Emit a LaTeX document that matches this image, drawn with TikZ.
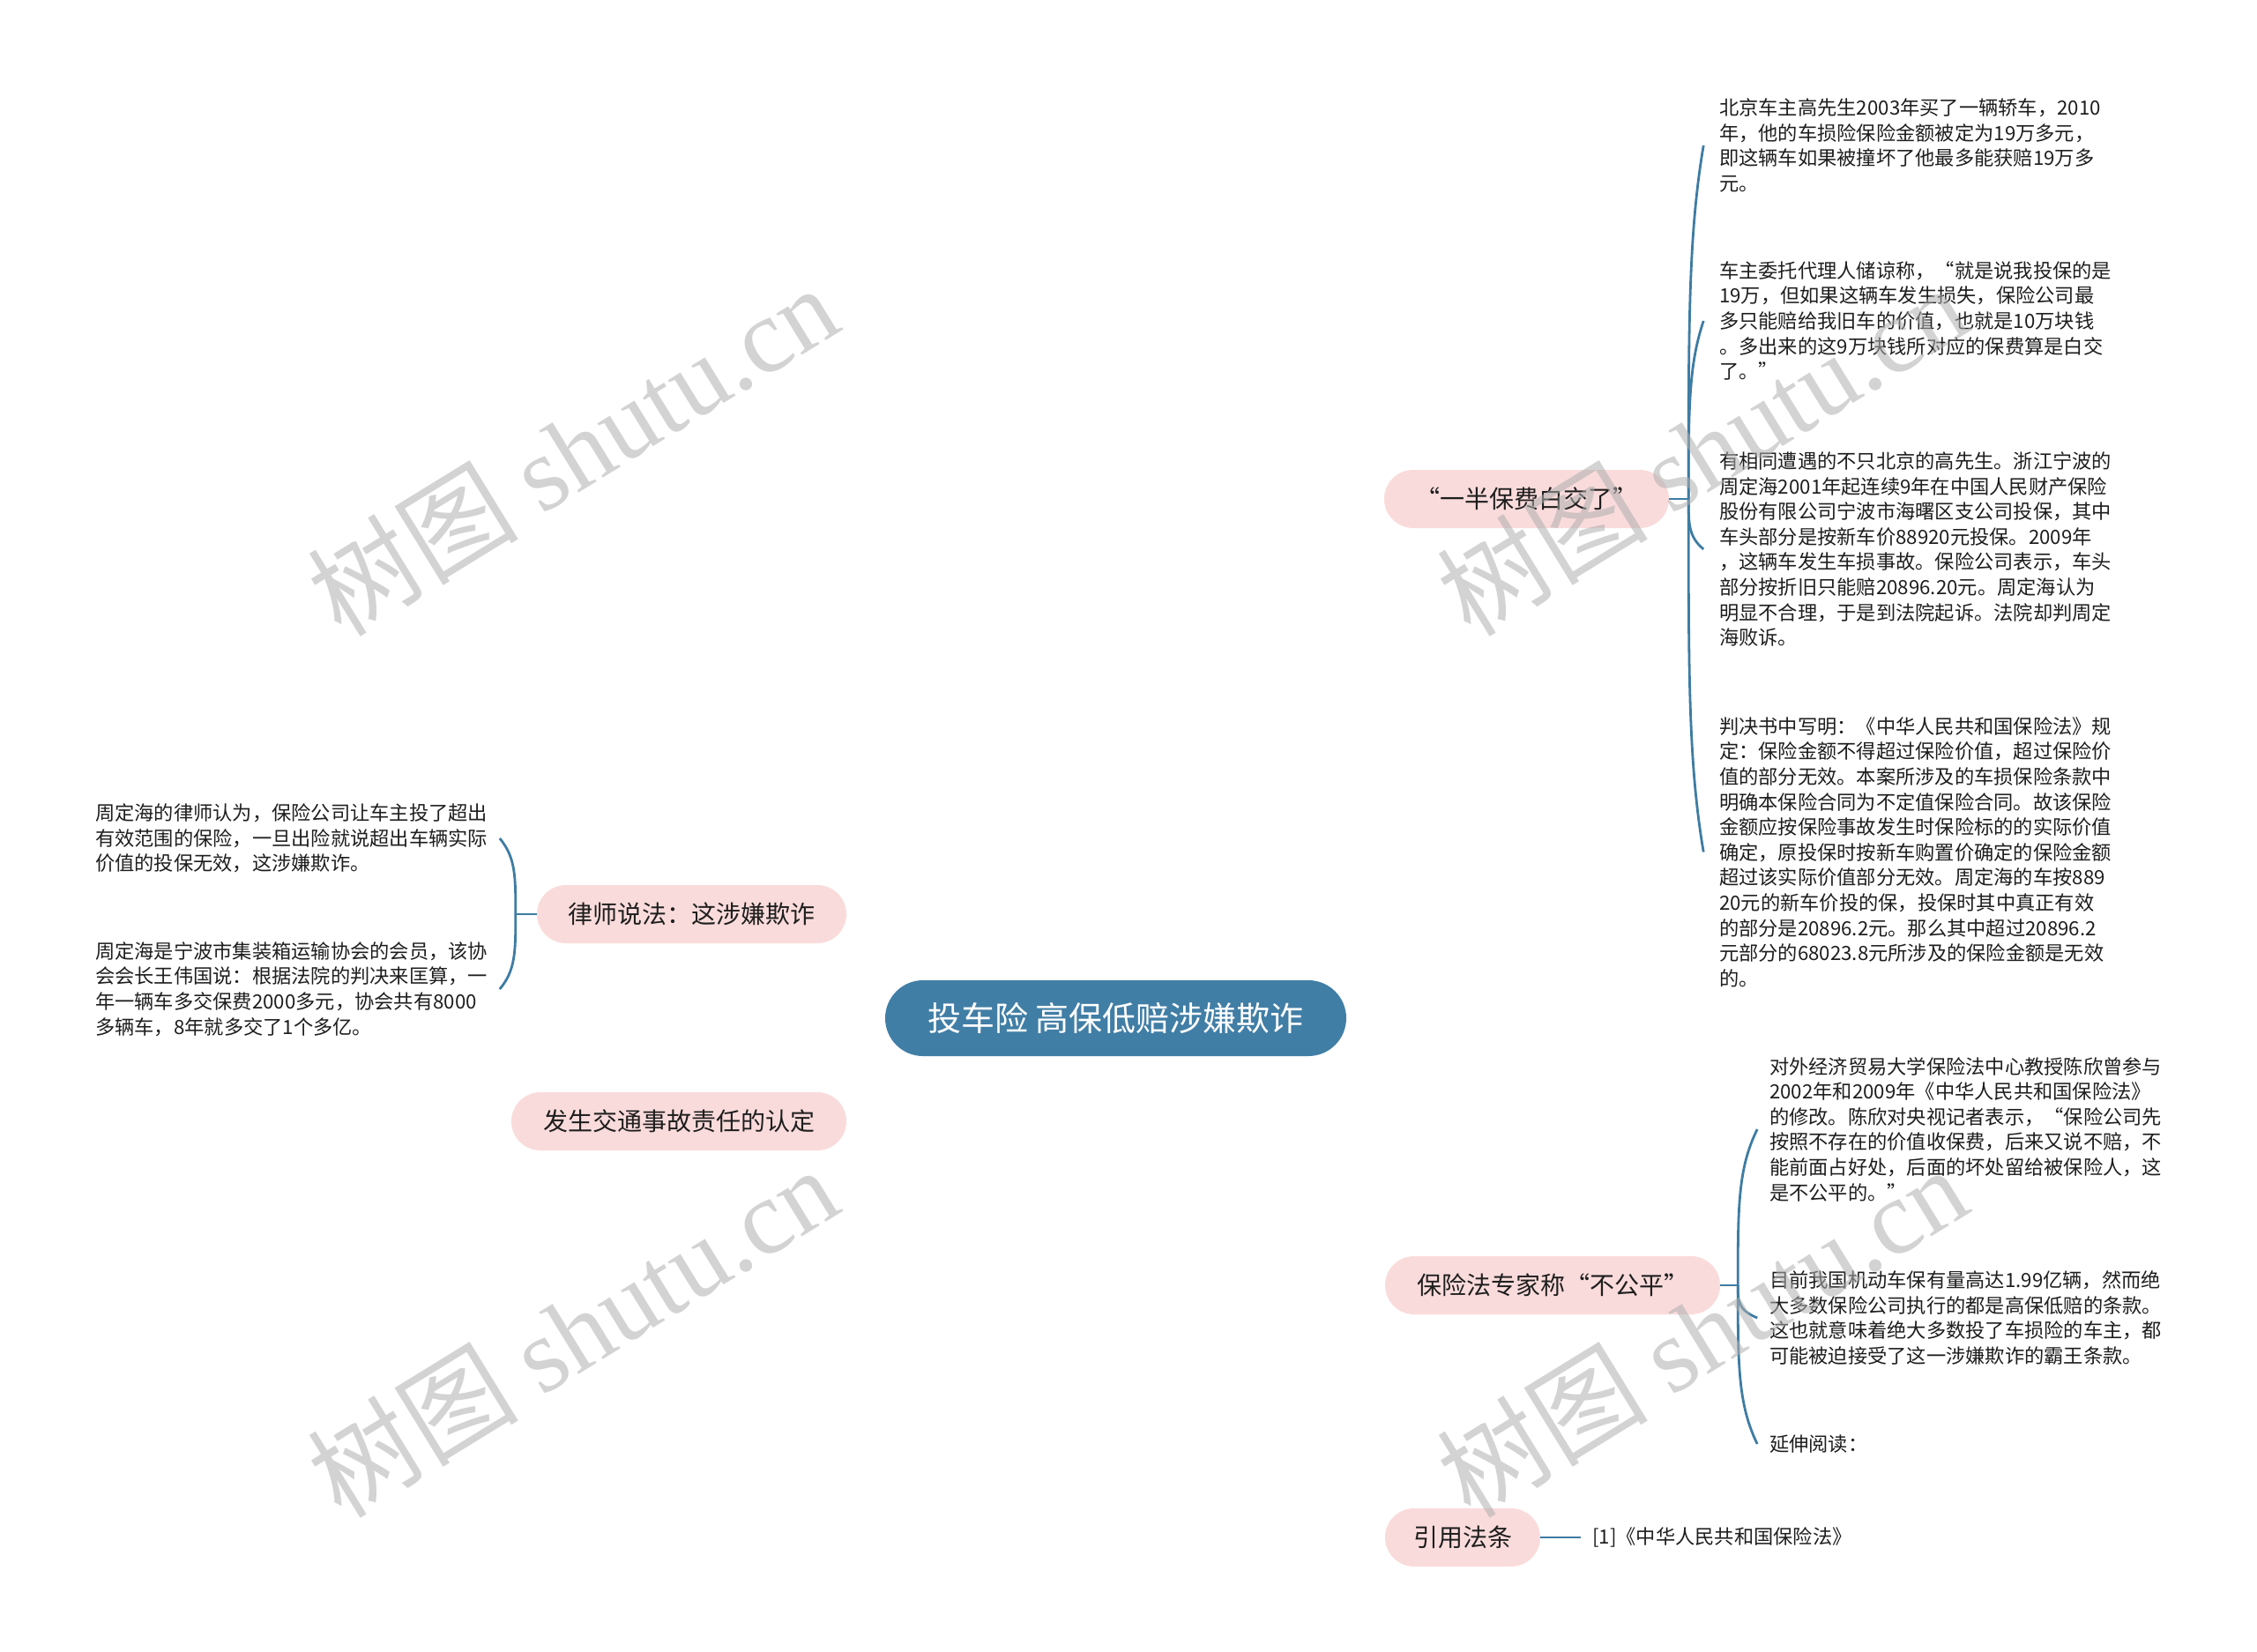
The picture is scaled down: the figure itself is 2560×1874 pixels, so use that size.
\documentclass[tikz,border=0pt]{standalone}
\usepackage{fontspec}
\setmainfont{Noto Sans CJK SC}
\newfontfamily\wmserif{Liberation Serif}
\usetikzlibrary{calc}
\definecolor{lineblue}{RGB}{62,124,163}
\definecolor{rootfill}{RGB}{65,126,166}
\definecolor{pillfill}{RGB}{250,219,219}
\definecolor{txt}{RGB}{30,30,30}
\definecolor{wm}{RGB}{175,175,175}
\pgfdeclarelayer{bg}
\pgfsetlayers{bg,main}
\tikzset{
  brace/.style={to path={.. controls ($(\tikztostart)!0.5!(\tikztostart |- \tikztotarget)$) and ($(\tikztostart |- \tikztotarget)!0.25!(\tikztostart)$) .. (\tikztotarget)}}
}
\begin{document}
\begin{tikzpicture}[x=1pt,y=-1pt,
  conn/.style={draw=lineblue, line width=2.8pt},
  rootnode/.style={fill=rootfill, text=white, rounded corners=43pt, minimum height=86pt, inner sep=0pt, font=\fontsize{38}{40}\selectfont},
  pill/.style={fill=pillfill, text=txt, rounded corners=33pt, minimum height=66pt, inner sep=0pt, font=\fontsize{28}{32}\selectfont},
  leaf/.style={text=txt, align=left, inner sep=0pt, font=\fontsize{22.25}{28.6}\selectfont},
  wmark/.style={text=wm, opacity=0.55, rotate=31.6, inner sep=0pt, font=\fontsize{120}{130}\selectfont}
]
\useasboundingbox[fill=white] (0,0) rectangle (2560,1874);

% root and main branches
\node[rootnode, minimum width=523pt] (root) at (1265.5,1155) {投车险 高保低赔涉嫌欺诈};
\node[pill, minimum width=323pt] (b1) at (1731.5,566) {“一半保费白交了”};
\node[pill, minimum width=380pt] (b2) at (1761,1458) {保险法专家称“不公平”};
\node[pill, minimum width=176pt] (b3) at (1659,1744) {引用法条};
\node[pill, minimum width=351pt] (b4) at (784.5,1037) {律师说法：这涉嫌欺诈};
\node[pill, minimum width=380pt] (b5) at (770,1272) {发生交通事故责任的认定};

% leaves of b1
\node[leaf, anchor=west] (c1) at (1950,165) {北京车主高先生2003年买了一辆轿车，2010\\年，他的车损险保险金额被定为19万多元，\\即这辆车如果被撞坏了他最多能获赔19万多\\元。};
\node[leaf, anchor=west] (c2) at (1950,364) {车主委托代理人储谅称，“就是说我投保的是\\19万，但如果这辆车发生损失，保险公司最\\多只能赔给我旧车的价值，也就是10万块钱\\。多出来的这9万块钱所对应的保费算是白交\\了。”};
\node[leaf, anchor=west] (c3) at (1950,623) {有相同遭遇的不只北京的高先生。浙江宁波的\\周定海2001年起连续9年在中国人民财产保险\\股份有限公司宁波市海曙区支公司投保，其中\\车头部分是按新车价88920元投保。2009年\\，这辆车发生车损事故。保险公司表示，车头\\部分按折旧只能赔20896.20元。周定海认为\\明显不合理，于是到法院起诉。法院却判周定\\海败诉。};
\node[leaf, anchor=west] (c4) at (1950,966.5) {判决书中写明：《中华人民共和国保险法》规\\定：保险金额不得超过保险价值，超过保险价\\值的部分无效。本案所涉及的车损保险条款中\\明确本保险合同为不定值保险合同。故该保险\\金额应按保险事故发生时保险标的的实际价值\\确定，原投保时按新车购置价确定的保险金额\\超过该实际价值部分无效。周定海的车按889\\20元的新车价投的保，投保时其中真正有效\\的部分是20896.2元。那么其中超过20896.2\\元部分的68023.8元所涉及的保险金额是无效\\的。};

% leaves of b2
\node[leaf, anchor=west] (d1) at (2007,1281) {对外经济贸易大学保险法中心教授陈欣曾参与\\2002年和2009年《中华人民共和国保险法》\\的修改。陈欣对央视记者表示，“保险公司先\\按照不存在的价值收保费，后来又说不赔，不\\能前面占好处，后面的坏处留给被保险人，这\\是不公平的。”};
\node[leaf, anchor=west] (d2) at (2007,1495) {目前我国机动车保有量高达1.99亿辆，然而绝\\大多数保险公司执行的都是高保低赔的条款。\\这也就意味着绝大多数投了车损险的车主，都\\可能被迫接受了这一涉嫌欺诈的霸王条款。};
\node[leaf, anchor=west] (d3) at (2007,1638) {延伸阅读：};

% leaf of b3
\node[leaf, anchor=west] (r1) at (1806,1744) {[1]《中华人民共和国保险法》};

% leaves of b4
\node[leaf, anchor=west] (l1) at (108,951) {周定海的律师认为，保险公司让车主投了超出\\有效范围的保险，一旦出险就说超出车辆实际\\价值的投保无效，这涉嫌欺诈。};
\node[leaf, anchor=west] (l2) at (108,1122) {周定海是宁波市集装箱运输协会的会员，该协\\会会长王伟国说：根据法院的判决来匡算，一\\年一辆车多交保费2000多元，协会共有8000\\多辆车，8年就多交了1个多亿。};

% connectors from root
\begin{pgfonlayer}{bg}
\draw[conn] (root.center) .. controls (1265,762) and (1367,566) .. (b1.west);
\draw[conn] (root.center) .. controls (1265,1357) and (1367,1458) .. (b2.west);
\draw[conn] (root.center) .. controls (1265,1548) and (1367,1744) .. (b3.west);
\draw[conn] (root.center) .. controls (1265,1076) and (1163,1037) .. (b4.east);
\draw[conn] (root.center) .. controls (1265,1233) and (1163,1272) .. (b5.east);
\end{pgfonlayer}

% brace b1
\coordinate (k1) at ([xshift=22pt]b1.east);
\draw[conn] (b1.east) -- (k1);
\foreach \c in {c1,c2,c3,c4}{
  \coordinate (e-\c) at ($(k1 |- \c.west)+(17,0)$);
  \draw[conn] (k1) to[brace] (e-\c);
}
% brace b2
\coordinate (k2) at ([xshift=20pt]b2.east);
\draw[conn] (b2.east) -- (k2);
\foreach \c in {d1,d2,d3}{
  \coordinate (e-\c) at ($(k2 |- \c.west)+(22,0)$);
  \draw[conn] (k2) to[brace] (e-\c);
}
% b3 to reference
\coordinate (e-r1) at ([xshift=-13pt]r1.west);
\draw[conn] (b3.east) -- (e-r1);
% brace b4
\coordinate (k4) at ([xshift=-24pt]b4.west);
\draw[conn] (b4.west) -- (k4);
\foreach \c in {l1,l2}{
  \coordinate (e-\c) at ($(k4 |- \c.west)+(-18,0)$);
  \draw[conn] (k4) to[brace] (e-\c);
}

% watermarks
\node[wmark] (w1) at (649,510) {树图 {\wmserif shutu.cn}};
\node[wmark] (w2) at (1930,510) {树图 {\wmserif shutu.cn}};
\node[wmark] (w3) at (649,1510) {树图 {\wmserif shutu.cn}};
\node[wmark] (w4) at (1930,1510) {树图 {\wmserif shutu.cn}};
\end{tikzpicture}
\end{document}
